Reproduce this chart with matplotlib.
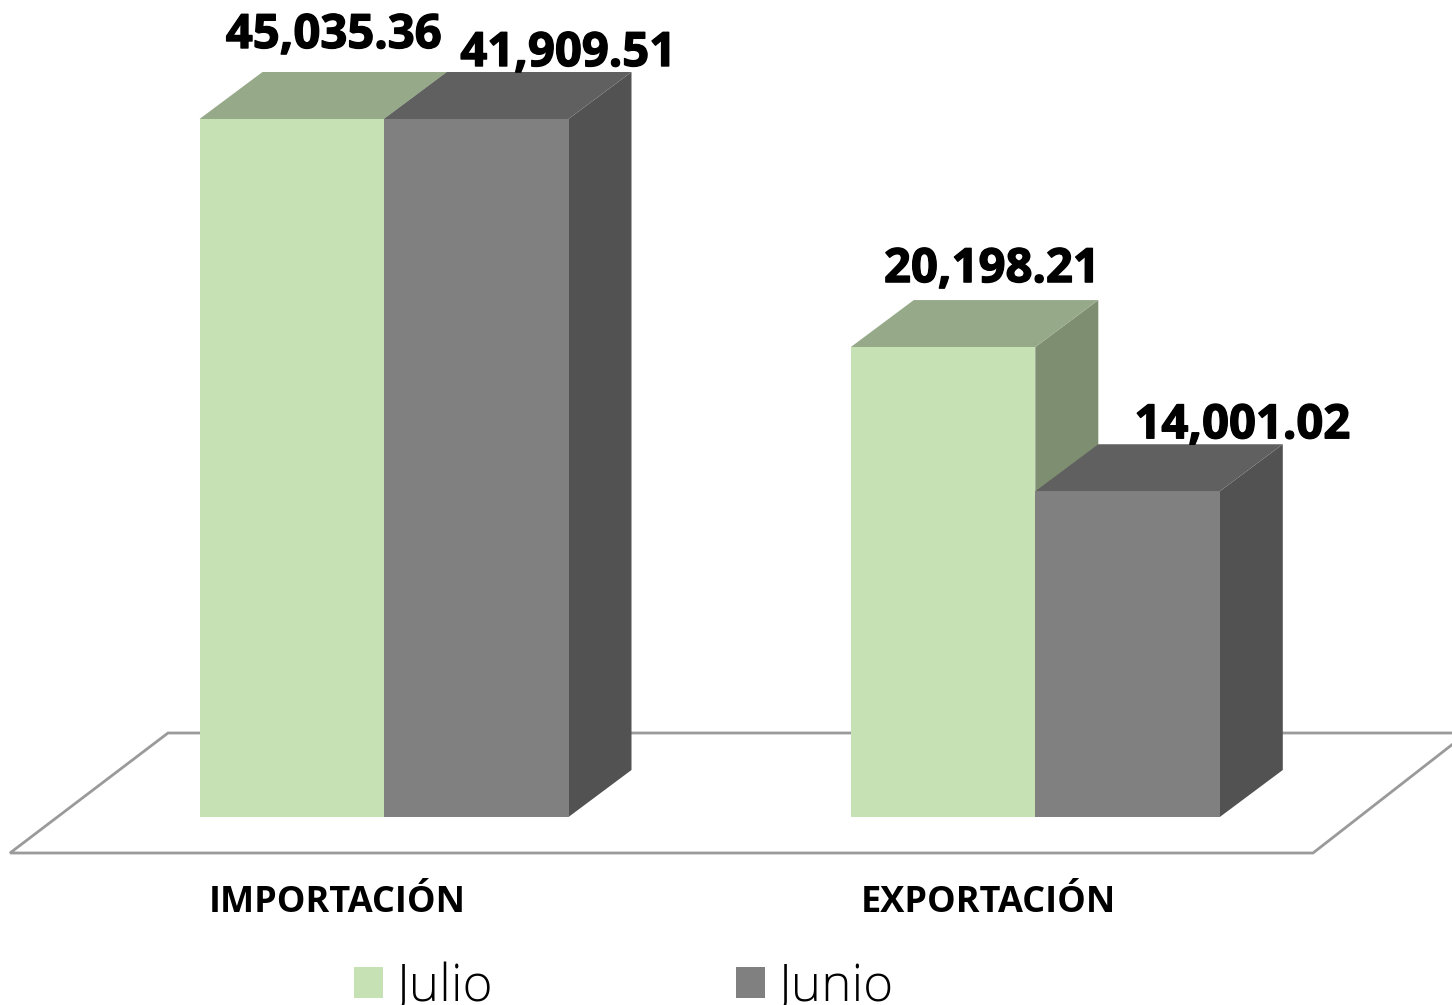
import numpy as np
import matplotlib
matplotlib.use("Agg")
import matplotlib.pyplot as plt
from matplotlib.patches import Polygon
import matplotlib.patheffects as pe

#data
categories = ["IMPORTACIÓN", "EXPORTACIÓN"]
julio = [45035.36, 20198.21]
junio = [41909.51, 14001.02]
axis_max = 30000  # the original axis stops here, so the tall bars are cut off

#layout, in pixels of the 1452x1005 picture
W, H = 1452, 1005
base_px = 817
top_px = 119
cat0_px = 384
cat_step = 651.3
bar_px = 184.5
depth_x_px = 63
depth_y_px = 47

sx = 1 / cat_step
sy = axis_max / (base_px - top_px)
bar_w = bar_px * sx
dx = depth_x_px * sx
dy = depth_y_px * sy

plt.rcParams['font.family'] = ['Open Sans', 'DejaVu Sans']

fig = plt.figure(figsize=(W / 100, H / 100), dpi=100)
ax = fig.add_axes([0, 0, 1, 1])
ax.set_xlim(-cat0_px * sx, (W - cat0_px) * sx)
ax.set_ylim(-(H - base_px) * sy, base_px * sy)
ax.axis('off')

#floor
floor_front = -36 * sy
floor_back = 84 * sy
floor_x = np.array([10, 1313, 1467, 168])
floor = Polygon([((floor_x[0] - cat0_px) * sx, floor_front), ((floor_x[1] - cat0_px) * sx, floor_front),
                 ((floor_x[2] - cat0_px) * sx, floor_back), ((floor_x[3] - cat0_px) * sx, floor_back)],
                closed=True, fc='white', ec='#9a9a9a', lw=2, zorder=1)
ax.add_patch(floor)


def bars_3d(x_left, values, front, top, side, label, z):
    heights = np.minimum(values, axis_max)
    ax.bar(x_left, heights, width=bar_w, align='edge', color=front, label=label, zorder=z + 0.2)
    for x0, h in zip(x_left, heights):
        x1 = x0 + bar_w
        ax.add_patch(Polygon([(x1, 0), (x1 + dx, dy), (x1 + dx, h + dy), (x1, h)], fc=side, ec='none', zorder=z))
        ax.add_patch(Polygon([(x0, h), (x1, h), (x1 + dx, h + dy), (x0 + dx, h + dy)], fc=top, ec='none', zorder=z + 0.1))


pos = np.arange(len(categories))
bars_3d(pos - bar_w, julio, '#c6e1b4', '#96aa8a', '#7e8f71', 'Julio', 2)
bars_3d(pos, junio, '#808080', '#606060', '#525252', 'Junio', 3)

#value labels, moved by hand in the original
label_dx = [42, 49, 92, 115]
label_dy = [71, 65, 53, 53]
lab_x = list(pos - bar_w / 2) + list(pos + bar_w / 2)
lab_v = julio + junio
for x, v, ox, oy in zip(lab_x, lab_v, label_dx, label_dy):
    t = ax.text(x + ox * sx, min(v, axis_max) + oy * sy, f"{v:,.2f}", ha='center', va='baseline',
                fontsize=34, fontweight='bold', color='black', zorder=6)
    t.set_path_effects([pe.withStroke(linewidth=1, foreground='black')])

#category labels
for x, c in zip(pos, categories):
    ax.text(x - 47 * sx, -(912 - base_px) * sy, c, ha='center', va='baseline',
            fontsize=26, fontweight='bold', color='black')

#legend
fs = 37
leg = ax.legend(loc='lower left', bbox_to_anchor=(354 / W, -8 / H), bbox_transform=fig.transFigure,
                ncol=2, frameon=False, prop={'size': fs, 'weight': 'light'}, handlelength=0.564,
                handleheight=0.545, handletextpad=0.27, columnspacing=4.71, borderpad=0, borderaxespad=0)

fig.savefig('out.png', dpi=100, facecolor='white')
